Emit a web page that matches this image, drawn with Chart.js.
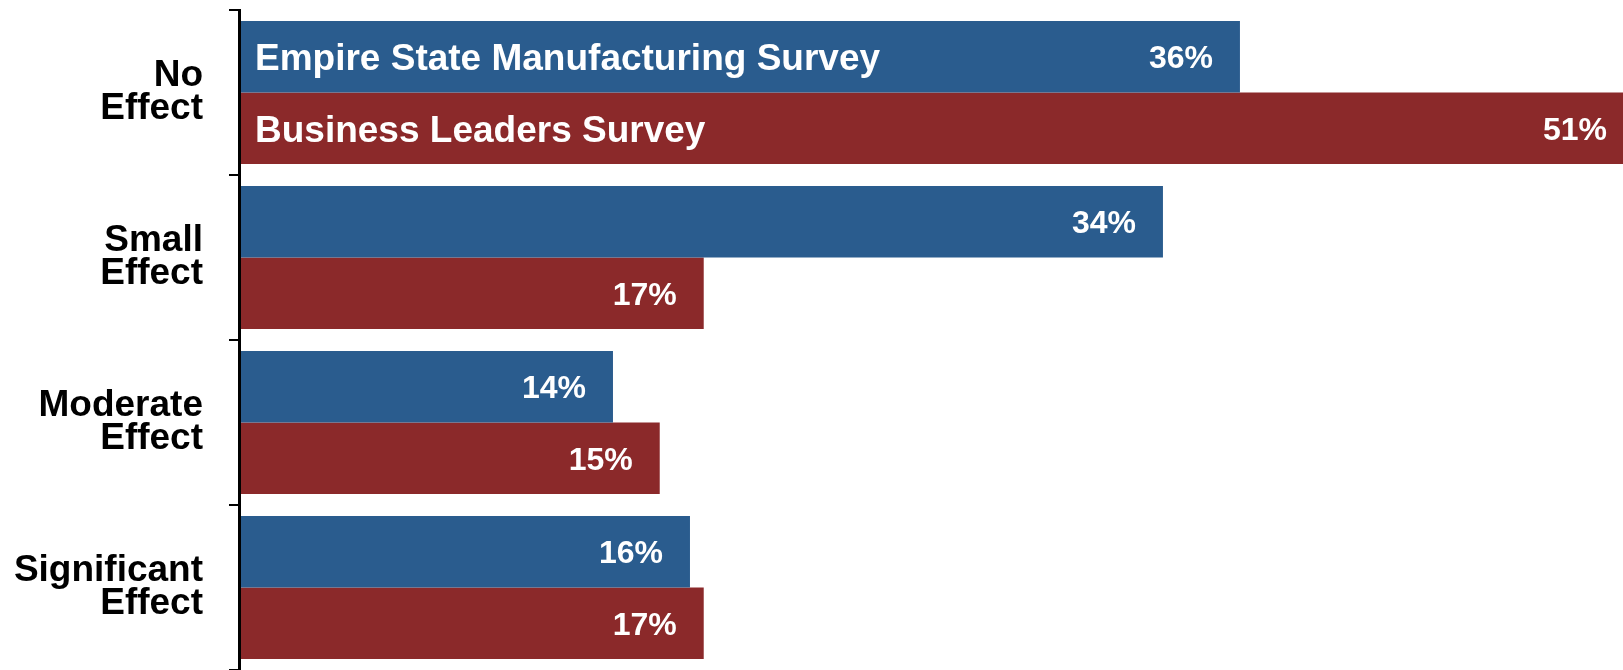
<!DOCTYPE html>
<html>
<head>
<meta charset="utf-8">
<script src="https://cdn.jsdelivr.net/npm/chart.js@4/dist/chart.umd.min.js"></script>
<style>
html,body{margin:0;padding:0;background:#fff;}
#wrap{width:1623px;height:670px;}
</style>
</head>
<body>
<div id="wrap"><canvas id="c" width="1623" height="670"></canvas></div>
<script>
const categories = [["No","Effect"],["Small","Effect"],["Moderate","Effect"],["Significant","Effect"]];
const seriesNames = ["Empire State Manufacturing Survey","Business Leaders Survey"];
const empireValues = [36.4, 33.6, 13.6, 16.4];
const businessValues = [51, 16.9, 15.3, 16.9];

const BLUE = '#2A5C8E';
const RED = '#8B292A';
const FONT = '"Liberation Sans", Arial, Helvetica, sans-serif';

const labelPlugin = {
  id: 'barLabels',
  afterDatasetsDraw(chart) {
    const ctx = chart.ctx;
    const area = chart.chartArea;
    ctx.save();
    ctx.beginPath();
    ctx.rect(area.left, area.top, area.right - area.left, area.bottom - area.top);
    ctx.clip();
    ctx.fillStyle = '#fff';
    chart.data.datasets.forEach((ds, di) => {
      const meta = chart.getDatasetMeta(di);
      meta.data.forEach((bar, i) => {
        const v = ds.data[i];
        const fs = 32;
        ctx.font = 'bold ' + fs + 'px ' + FONT;
        ctx.textAlign = 'right';
        ctx.textBaseline = 'alphabetic';
        const xEnd = Math.min(bar.x, area.right + 11);
        ctx.fillText(Math.round(v) + '%', xEnd - 27, bar.y + fs * 0.358);
        if (i === 0) {
          const fs2 = 37;
          ctx.font = 'bold ' + fs2 + 'px ' + FONT;
          ctx.textAlign = 'left';
          ctx.fillText(ds.label, bar.base + 16, bar.y + fs2 * 0.358);
        }
      });
    });
    ctx.restore();
  }
};

new Chart(document.getElementById('c'), {
  type: 'bar',
  data: {
    labels: categories,
    datasets: [
      { label: seriesNames[0], data: empireValues, backgroundColor: BLUE, borderWidth: 0 },
      { label: seriesNames[1], data: businessValues, backgroundColor: RED, borderWidth: 0 }
    ]
  },
  options: {
    indexAxis: 'y',
    responsive: false,
    animation: false,
    devicePixelRatio: 1,
    layout: { padding: { top: 10, bottom: 0, left: 0, right: 0 } },
    categoryPercentage: 0.867,
    barPercentage: 1.0,
    plugins: { legend: { display: false }, tooltip: { enabled: false } },
    scales: {
      x: { display: false, min: 0, max: 50.33 },
      y: {
        offset: true,
        afterFit(s) { s.width = 239; s.paddingTop = 0; s.paddingBottom = 0; },
        grid: { display: true, drawOnChartArea: false, drawTicks: true, tickLength: 10, color: '#000', lineWidth: 2, offset: true },
        border: { display: true, color: '#000', width: 3, z: 1 },
        ticks: {
          color: '#000',
          padding: 26,
          font: { family: FONT, size: 37, weight: 'bold', lineHeight: 0.89 }
        }
      }
    }
  },
  plugins: [labelPlugin]
});
</script>
</body>
</html>
